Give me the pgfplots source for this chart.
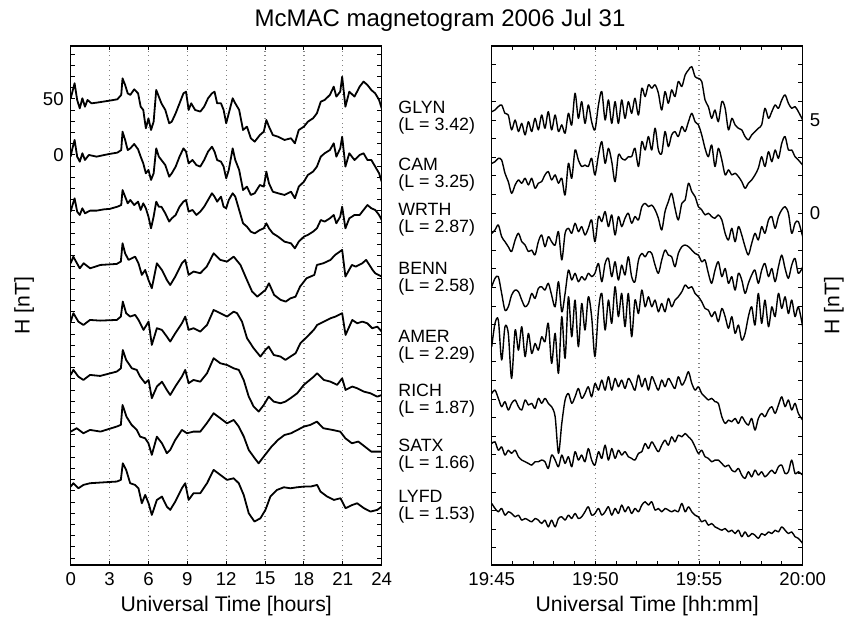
\documentclass[border=0pt]{standalone}
\usepackage{pgfplots}
\pgfplotsset{compat=1.18}
\usepackage{pgfplotstable}
\usepackage{fontspec}
\setmainfont{Liberation Sans}

\pgfplotstableread{
x glyn cam wrth benn amer rich satx lyfd
0.00 5.45 2.67 -1.09 -3.96 -7.19 -9.70 -12.39 -15.61
0.16 5.54 2.76 -0.91 -3.51 -5.93 -9.52 -12.30 -15.88
0.32 5.72 2.94 -0.64 -3.42 -5.75 -9.96 -12.75 -16.06
0.48 5.81 2.85 -1.27 -4.32 -7.90 -10.41 -12.57 -15.88
0.64 5.36 2.14 -1.54 -5.22 -6.11 -10.14 -13.01 -16.24
0.80 5.27 1.69 -1.81 -5.04 -6.47 -10.59 -12.75 -16.06
0.96 4.47 1.06 -2.07 -4.41 -8.89 -10.23 -12.92 -16.15
1.13 5.00 1.51 -1.45 -4.14 -6.29 -10.05 -12.75 -16.33
1.29 4.38 1.78 -1.09 -4.23 -7.37 -10.41 -13.10 -16.24
1.45 4.82 1.60 -1.54 -4.68 -6.11 -10.59 -13.28 -16.51
1.61 4.20 1.87 -1.72 -5.04 -7.72 -10.05 -13.37 -16.42
1.77 4.91 1.51 -2.07 -4.86 -6.47 -10.32 -13.46 -16.51
1.93 4.38 1.87 -1.99 -4.32 -7.55 -10.23 -13.55 -16.60
2.09 5.09 1.33 -2.25 -4.59 -7.01 -10.50 -13.37 -16.42
2.25 4.47 1.60 -1.54 -4.05 -7.37 -9.96 -13.37 -16.51
2.41 5.27 1.69 -1.18 -3.96 -6.65 -10.23 -13.28 -16.69
2.57 4.56 2.05 -1.81 -4.14 -6.92 -9.96 -13.37 -16.51
2.73 5.45 2.23 -1.27 -3.78 -5.93 -10.23 -13.73 -16.87
2.89 4.47 1.78 -1.54 -4.41 -8.08 -10.41 -13.01 -16.51
3.06 5.27 2.05 -1.72 -5.04 -6.47 -10.95 -13.28 -16.87
3.22 4.38 1.60 -1.00 -3.69 -8.62 -12.92 -13.64 -16.42
3.38 4.74 1.87 -2.52 -5.31 -5.57 -11.31 -13.01 -16.33
3.54 4.29 0.97 -1.09 -4.32 -7.81 -10.05 -13.46 -16.51
3.70 5.36 2.67 -0.82 -3.07 -4.50 -9.70 -13.10 -16.24
3.86 4.74 1.87 -1.09 -3.60 -6.65 -10.23 -13.64 -16.42
4.02 6.44 3.39 -0.55 -3.24 -4.68 -9.88 -12.83 -16.15
4.18 5.09 2.85 -1.00 -3.69 -7.19 -9.43 -13.28 -16.42
4.34 5.99 2.50 -0.73 -3.42 -4.86 -9.96 -13.01 -16.33
4.50 4.82 2.58 -1.18 -3.60 -6.29 -9.70 -13.37 -16.06
4.66 5.81 2.50 -0.82 -3.24 -4.50 -9.34 -12.66 -15.79
4.82 4.91 2.94 -0.37 -3.42 -5.57 -9.88 -13.28 -16.24
4.98 4.47 2.05 -1.54 -3.24 -7.72 -9.16 -13.55 -16.15
5.15 5.81 3.12 -0.19 -2.71 -5.22 -9.52 -12.83 -15.88
5.31 6.53 3.84 -0.46 -3.69 -4.32 -8.98 -13.19 -16.24
5.47 5.00 2.67 0.08 -2.71 -6.29 -9.52 -12.48 -16.06
5.63 6.08 3.48 -0.73 -2.44 -4.68 -8.80 -13.28 -15.79
5.79 4.82 2.76 -0.10 -3.42 -5.93 -9.52 -12.66 -16.24
5.95 5.99 1.69 -1.18 -2.62 -3.96 -8.89 -13.19 -15.88
6.11 4.82 3.12 -0.19 -3.60 -5.57 -9.34 -12.75 -16.15
6.27 6.08 2.94 -0.73 -2.80 -4.32 -8.98 -13.01 -15.70
6.43 5.09 2.85 -0.28 -3.33 -6.11 -9.43 -12.83 -16.06
6.59 5.99 3.03 -0.01 -2.35 -4.32 -8.89 -13.10 -15.79
6.75 5.36 3.03 -0.55 -3.42 -6.65 -9.16 -13.19 -16.15
6.91 6.17 3.48 -0.19 -3.69 -4.68 -9.52 -13.28 -15.88
7.08 5.27 2.50 -0.37 -2.53 -5.40 -8.71 -12.92 -16.06
7.24 6.71 3.84 0.34 -2.17 -4.14 -9.34 -12.83 -15.70
7.40 6.26 3.39 0.52 -2.35 -5.04 -8.89 -12.39 -15.52
7.56 6.89 4.11 0.34 -2.08 -4.50 -9.52 -12.66 -15.70
7.72 6.71 3.39 0.43 -2.17 -5.04 -8.80 -12.30 -15.52
7.88 6.89 4.56 0.17 -2.80 -4.68 -9.16 -12.57 -15.97
8.04 6.44 3.39 -0.28 -3.24 -5.31 -9.52 -12.83 -15.88
8.20 5.54 3.21 -0.91 -2.53 -4.86 -8.98 -12.48 -16.06
8.36 6.53 4.38 0.08 -1.99 -5.31 -9.34 -12.21 -15.88
8.52 5.90 3.57 0.61 -2.26 -4.59 -8.89 -12.48 -15.97
8.68 6.62 4.20 1.06 -2.35 -5.04 -9.16 -12.03 -16.06
8.84 6.26 4.38 0.26 -2.89 -4.68 -9.43 -12.30 -15.97
9.00 7.07 4.11 -0.37 -2.17 -4.50 -8.80 -11.94 -16.06
9.17 6.80 4.65 0.52 -1.81 -4.23 -9.25 -12.03 -15.61
9.33 7.42 4.38 0.70 -1.72 -3.87 -8.98 -11.85 -16.06
9.49 7.69 4.91 1.60 -1.81 -4.05 -8.53 -12.03 -15.79
9.65 7.87 5.36 1.15 -1.99 -3.96 -9.16 -12.21 -16.06
9.81 7.33 4.91 0.88 -2.17 -4.32 -9.52 -12.57 -16.24
9.97 7.24 4.74 0.34 -2.26 -4.50 -9.34 -12.92 -16.33
10.13 7.07 4.20 0.17 -2.62 -4.77 -9.70 -12.75 -16.60
10.29 6.08 3.48 -0.10 -2.53 -5.13 -9.88 -13.10 -16.51
10.45 5.72 3.03 -0.01 -3.24 -5.22 -10.05 -13.19 -16.78
10.61 5.09 3.66 -0.19 -3.78 -5.57 -9.96 -13.37 -16.69
10.77 5.54 2.50 -0.28 -3.07 -5.31 -10.14 -13.28 -16.87
10.93 4.91 3.48 -0.10 -2.62 -5.84 -10.23 -13.28 -16.96
11.10 5.99 2.85 -0.37 -3.42 -5.13 -10.95 -13.46 -17.05
11.26 5.63 2.05 -1.09 -2.98 -5.57 -11.31 -13.64 -16.96
11.42 4.47 2.32 -1.45 -3.78 -6.20 -11.13 -13.55 -17.14
11.58 5.09 2.05 -0.82 -3.42 -5.57 -11.22 -13.82 -17.05
11.74 4.74 2.14 -1.54 -4.14 -6.47 -11.04 -13.91 -17.23
11.90 4.56 1.96 -0.73 -3.24 -6.02 -11.31 -13.73 -17.05
12.06 4.47 1.69 -1.18 -3.60 -6.83 -10.95 -14.09 -17.40
12.22 4.11 1.33 -1.81 -4.32 -6.47 -11.22 -14.27 -17.14
12.38 3.93 1.60 -2.25 -3.78 -5.57 -11.40 -13.91 -17.40
12.54 4.20 1.78 -1.63 -3.33 -5.04 -11.04 -14.18 -17.23
12.70 4.38 2.05 -1.09 -3.07 -6.02 -11.67 -13.82 -17.32
12.86 4.56 2.41 -1.45 -3.78 -4.32 -11.04 -14.09 -17.49
13.02 4.74 3.03 -0.73 -3.07 -5.93 -10.77 -13.91 -17.23
13.18 5.63 2.50 -1.09 -2.71 -4.68 -10.95 -14.18 -17.32
13.35 5.09 3.30 -0.37 -3.42 -6.11 -10.59 -14.00 -17.14
13.51 5.45 2.76 -0.19 -2.98 -5.04 -10.41 -13.82 -17.23
13.67 5.81 3.39 -0.82 -3.69 -5.57 -10.77 -14.00 -17.05
13.83 5.63 2.94 -0.19 -2.89 -4.32 -10.32 -13.64 -17.14
13.99 6.08 3.75 0.17 -2.26 -5.13 -9.88 -13.55 -16.87
14.15 6.35 4.11 0.34 -2.98 -4.50 -10.41 -14.00 -17.05
14.31 5.90 3.39 -0.01 -3.51 -5.40 -10.05 -13.91 -17.23
14.47 5.63 3.39 -1.09 -2.80 -4.68 -10.59 -13.28 -17.14
14.63 5.72 3.03 -0.55 -2.44 -5.57 -10.23 -14.00 -17.40
14.79 5.45 2.85 -0.46 -3.24 -5.04 -10.77 -13.91 -17.49
15.00 5.00 2.58 -1.27 -2.89 -6.11 -11.13 -14.09 -17.76
}\rightdata

\pgfplotsset{
  magaxis/.style={
    scale only axis, width=155.5pt, height=259.5pt,
    anchor=south west,
    axis line style={line width=0.6pt},
    tick align=inside,
    major tick length=2.2pt, minor tick length=2.2pt,
    every tick/.style={black, line width=0.5pt},
    every minor tick/.style={black, line width=0.5pt},
    xmajorgrids,
    major x grid style={gray, dotted, line width=0.6pt},
    tick label style={font=\fontsize{9.3}{11}\selectfont},
    label style={font=\fontsize{10.6}{12}\selectfont},
    xlabel style={at={(axis description cs:0.5,-0.079)}, anchor=center},
  },
  lefttrace/.style={black, line width=0.9pt, line join=round},
  righttrace/.style={black, line width=0.7pt, line join=round, smooth, tension=0.5},
}

\begin{document}
\begin{tikzpicture}

\begin{axis}[magaxis, at={(35.35pt,27.5pt)},
  xmin=0, xmax=24, ymin=-366.1, ymax=97.3,
  xtick={0,3,...,24}, xticklabels={0,3,6,9,12,15,18,21,24},
  ytick={0,50}, yticklabels={0,50}, minor ytick={-360,-350,...,90},
  xlabel={Universal Time [hours]},
  ylabel={H [nT]},
  ylabel style={at={(axis description cs:-0.150,0.5)}, anchor=center},
]
% GLYN
\addplot[lefttrace] coordinates {(0.0,50.6) (0.1,55.0) (0.3,64.0) (0.5,49.1) (0.7,41.6) (0.9,50.6) (1.1,43.1) (1.3,49.1) (1.6,46.1) (2.0,46.7) (2.5,47.6) (3.0,48.5) (3.6,49.7) (3.9,53.6) (4.0,68.4) (4.2,62.5) (4.4,55.0) (4.6,53.6) (4.9,58.6) (5.2,55.0) (5.4,43.1) (5.6,40.2) (5.8,23.8) (6.0,32.7) (6.2,22.3) (6.4,29.7) (6.6,58.0) (6.8,52.1) (7.0,46.1) (7.3,40.2) (7.6,28.3) (7.8,29.7) (8.1,37.2) (8.4,46.1) (8.7,55.0) (8.9,56.5) (9.1,40.2) (9.3,46.1) (9.6,40.2) (10.0,38.7) (10.3,43.1) (10.6,50.6) (10.9,55.0) (11.1,56.5) (11.3,46.1) (11.6,46.1) (11.8,40.2) (12.0,28.3) (12.2,37.2) (12.5,50.6) (12.7,46.1) (13.0,40.2) (13.3,22.3) (13.6,25.3) (13.9,14.9) (14.2,11.9) (14.6,17.8) (14.9,20.8) (15.1,31.2) (15.3,25.3) (15.6,17.8) (16.0,16.3) (16.5,13.4) (17.0,14.9) (17.3,10.4) (17.6,22.3) (18.0,25.3) (18.3,29.7) (18.7,32.7) (19.0,37.2) (19.3,47.6) (19.6,49.1) (20.0,53.6) (20.3,61.0) (20.5,52.1) (20.8,56.5) (20.95,69.9) (21.2,43.1) (21.5,56.5) (21.9,52.1) (22.3,61.0) (22.6,65.5) (22.9,62.5) (23.2,58.0) (23.5,55.0) (23.8,49.1) (24.0,41.6)};
% CAM
\addplot[lefttrace] coordinates {(0.0,-1.5) (0.1,4.4) (0.3,13.4) (0.5,-1.5) (0.7,-6.0) (0.9,1.5) (1.1,-4.5) (1.4,0.0) (2.0,-1.5) (2.6,0.0) (3.0,0.9) (3.6,2.1) (3.9,4.4) (4.0,20.8) (4.2,13.4) (4.4,4.4) (4.6,5.9) (4.9,9.8) (5.2,5.0) (5.4,-1.5) (5.6,-7.5) (5.8,-16.4) (6.0,-13.4) (6.2,-22.3) (6.4,-16.4) (6.6,5.9) (6.8,-1.5) (7.0,-4.5) (7.3,-9.0) (7.6,-19.4) (7.8,-16.4) (8.1,-10.4) (8.4,-1.5) (8.7,5.9) (8.9,3.0) (9.1,-7.5) (9.4,-4.5) (9.7,-9.0) (10.0,-10.4) (10.3,-4.5) (10.6,3.0) (10.9,7.4) (11.1,3.0) (11.3,-4.5) (11.6,-6.0) (11.8,-10.4) (12.0,-20.9) (12.2,-13.4) (12.5,5.9) (12.7,-4.5) (13.0,-13.4) (13.3,-31.3) (13.6,-28.3) (13.9,-35.7) (14.2,-34.2) (14.6,-26.8) (14.9,-28.3) (15.1,-14.9) (15.3,-25.3) (15.6,-32.8) (16.0,-34.2) (16.5,-35.7) (17.0,-32.8) (17.3,-38.7) (17.6,-28.3) (18.0,-23.8) (18.3,-17.9) (18.7,-14.9) (19.0,-10.4) (19.3,-1.5) (19.6,1.5) (20.0,4.4) (20.3,10.4) (20.5,-1.5) (20.8,5.9) (20.95,16.3) (21.2,-10.4) (21.5,1.5) (21.9,-4.5) (22.3,0.0) (22.6,1.5) (22.9,-4.5) (23.2,-4.5) (23.5,-10.4) (23.8,-16.4) (24.0,-23.8)};
% WRTH
\addplot[lefttrace] coordinates {(0.0,-50.6) (0.1,-46.2) (0.3,-38.7) (0.5,-50.6) (0.7,-53.6) (0.9,-47.6) (1.1,-52.1) (1.5,-49.7) (2.0,-49.7) (2.6,-48.5) (3.0,-48.2) (3.6,-46.2) (3.9,-44.7) (4.0,-31.3) (4.2,-37.2) (4.4,-43.2) (4.6,-40.2) (4.9,-44.7) (5.2,-41.7) (5.4,-49.1) (5.6,-43.2) (5.8,-47.6) (6.0,-55.1) (6.2,-65.5) (6.4,-55.1) (6.6,-41.7) (6.8,-46.2) (7.0,-46.2) (7.3,-52.1) (7.6,-59.5) (7.8,-56.6) (8.1,-53.6) (8.4,-46.2) (8.7,-41.7) (8.9,-40.2) (9.1,-50.6) (9.4,-49.1) (9.7,-53.6) (10.0,-50.6) (10.3,-46.2) (10.6,-40.2) (10.9,-34.2) (11.1,-37.2) (11.3,-41.7) (11.6,-37.2) (11.8,-46.2) (12.0,-47.6) (12.2,-40.2) (12.5,-34.2) (12.7,-37.2) (13.0,-49.1) (13.3,-61.0) (13.6,-64.0) (13.9,-68.5) (14.2,-70.0) (14.6,-67.0) (14.9,-65.5) (15.1,-61.0) (15.3,-65.5) (15.6,-70.0) (16.0,-72.9) (16.5,-77.4) (17.0,-78.9) (17.3,-83.4) (17.6,-77.4) (18.0,-72.9) (18.3,-71.4) (18.7,-68.5) (19.0,-65.5) (19.3,-58.1) (19.6,-59.5) (20.0,-56.6) (20.3,-53.6) (20.5,-61.0) (20.8,-55.1) (20.95,-46.2) (21.2,-65.5) (21.5,-56.6) (21.9,-53.6) (22.3,-53.6) (22.6,-49.1) (22.9,-44.7) (23.2,-47.6) (23.5,-49.1) (23.8,-53.6) (24.0,-58.1)};
% BENN
\addplot[lefttrace] coordinates {(0.0,-96.7) (0.2,-90.8) (0.7,-101.2) (1.0,-96.7) (1.5,-101.2) (2.3,-98.2) (3.55,-97.3) (3.87,-95.2) (4.0,-78.8) (4.2,-87.8) (4.46,-93.7) (4.97,-90.8) (5.23,-96.7) (5.49,-107.1) (5.75,-102.7) (6.0,-111.6) (6.26,-119.0) (6.65,-96.7) (7.04,-102.7) (7.42,-111.6) (7.68,-116.1) (8.07,-108.6) (8.58,-96.7) (8.84,-93.7) (9.1,-107.1) (9.48,-104.1) (10.0,-105.6) (10.5,-99.7) (11.03,-87.8) (11.55,-93.7) (12.06,-95.2) (12.58,-90.8) (13.1,-98.2) (13.6,-111.6) (14.0,-122.0) (14.4,-126.5) (15.03,-120.5) (15.3,-114.6) (15.7,-125.0) (16.2,-129.4) (16.6,-130.9) (16.96,-128.0) (17.35,-126.5) (17.7,-117.5) (18.2,-110.1) (18.8,-107.1) (19.0,-98.2) (19.5,-96.7) (20.05,-93.7) (20.4,-89.3) (20.95,-84.8) (21.2,-108.6) (21.7,-98.2) (22.0,-99.7) (22.5,-96.7) (22.8,-93.7) (23.3,-102.7) (23.5,-105.6) (24.0,-108.6)};
% AMER
\addplot[lefttrace] coordinates {(0,-148.8) (0.21,-141.3) (0.59,-148.8) (0.98,-151.8) (1.49,-147.3) (2.27,-147.9) (3.56,-147.3) (3.87,-144.3) (4.02,-130.9) (4.28,-141.3) (4.59,-144.3) (4.97,-142.8) (5.23,-147.3) (5.62,-156.2) (6.01,-148.8) (6.26,-169.6) (6.65,-154.7) (7.04,-156.2) (7.42,-162.2) (7.68,-166.6) (8.07,-159.2) (8.58,-150.3) (8.84,-144.3) (9.10,-156.2) (9.48,-154.7) (10.0,-157.7) (10.52,-151.8) (11.03,-138.4) (11.55,-141.3) (12.06,-144.3) (12.58,-139.9) (12.84,-141.3) (13.22,-148.8) (13.61,-163.7) (14.12,-172.6) (14.64,-180.0) (15.03,-174.1) (15.28,-171.1) (15.67,-178.6) (16.19,-180.0) (16.57,-183.0) (16.96,-180.0) (17.35,-177.1) (17.73,-168.1) (18.25,-162.2) (18.76,-156.2) (19.02,-151.8) (19.54,-148.8) (20.05,-145.8) (20.44,-144.3) (20.95,-141.3) (21.21,-160.7) (21.73,-147.3) (22.11,-150.3) (22.50,-148.8) (22.89,-150.3) (23.27,-154.7) (23.66,-153.3) (24.0,-157.7)};
% RICH
\addplot[lefttrace] coordinates {(0,-196.4) (0.21,-191.9) (0.59,-197.9) (0.98,-200.9) (1.49,-196.4) (2.27,-197.3) (3.56,-193.4) (3.87,-190.5) (4.02,-174.1) (4.28,-183.0) (4.72,-190.5) (5.10,-191.9) (5.36,-197.9) (5.75,-203.8) (6.01,-200.9) (6.26,-217.2) (6.65,-206.8) (7.04,-202.4) (7.42,-209.8) (7.68,-214.3) (8.07,-206.8) (8.58,-197.9) (8.84,-191.9) (9.10,-203.8) (9.48,-200.9) (10.0,-202.4) (10.52,-194.9) (11.03,-181.5) (11.55,-186.0) (12.06,-187.5) (12.58,-190.5) (12.97,-191.9) (13.35,-200.9) (13.74,-215.8) (14.12,-224.7) (14.51,-229.1) (14.90,-223.2) (15.28,-215.8) (15.67,-220.2) (16.19,-221.7) (16.57,-220.2) (16.96,-217.2) (17.48,-212.8) (17.99,-205.3) (18.76,-197.9) (19.02,-194.9) (19.54,-200.9) (20.05,-202.4) (20.56,-205.3) (20.95,-199.4) (21.21,-209.8) (21.73,-206.8) (22.11,-208.3) (22.63,-211.3) (23.14,-212.8) (23.66,-215.8) (24.0,-214.3)};
% SATX
\addplot[lefttrace] coordinates {(0,-247.0) (0.46,-244.0) (0.98,-248.5) (1.5,-245.5) (2.3,-247.0) (3.55,-242.5) (3.87,-241.0) (4.0,-223.2) (4.3,-233.6) (4.7,-241.0) (5.1,-245.5) (5.36,-251.5) (5.75,-253.0) (6.0,-257.4) (6.26,-267.8) (6.65,-251.5) (7.04,-257.4) (7.42,-266.3) (7.68,-263.4) (8.07,-254.4) (8.58,-245.5) (8.97,-248.5) (9.48,-247.0) (10.0,-247.0) (10.5,-239.6) (11.03,-230.6) (11.55,-235.1) (12.06,-239.6) (12.58,-236.6) (12.97,-242.5) (13.36,-251.5) (13.74,-263.4) (14.2,-270.8) (14.5,-275.3) (15.0,-267.8) (15.5,-260.4) (16.0,-254.4) (16.5,-250.0) (17.0,-248.5) (17.5,-245.5) (18.0,-242.5) (18.5,-241.0) (19.0,-238.1) (19.5,-244.0) (20.2,-245.5) (20.8,-247.0) (21.2,-253.0) (21.7,-257.4) (22.2,-255.9) (22.7,-260.4) (23.2,-264.9) (24.0,-264.9)};
% LYFD
\addplot[lefttrace] coordinates {(0,-296.1) (0.21,-293.1) (0.59,-297.6) (0.98,-294.6) (1.49,-293.1) (2.27,-292.5) (3.56,-291.6) (3.87,-290.1) (4.02,-275.3) (4.28,-281.2) (4.59,-293.1) (4.97,-294.6) (5.23,-297.6) (5.49,-311.0) (5.75,-303.5) (6.01,-311.0) (6.26,-321.4) (6.65,-308.0) (7.04,-305.0) (7.42,-314.0) (7.68,-316.9) (8.07,-309.5) (8.58,-297.6) (8.84,-293.1) (9.10,-308.0) (9.48,-302.0) (10.0,-302.0) (10.52,-293.1) (11.03,-281.2) (11.55,-285.7) (12.06,-290.1) (12.58,-288.7) (12.97,-293.1) (13.35,-303.5) (13.74,-319.9) (14.18,-327.3) (14.64,-324.4) (15.03,-316.9) (15.41,-305.0) (15.92,-299.1) (16.45,-296.7) (16.96,-297.6) (17.48,-296.7) (17.99,-296.1) (18.51,-296.1) (19.02,-294.6) (19.28,-300.6) (19.79,-305.0) (20.31,-308.0) (20.82,-306.5) (21.21,-315.4) (21.73,-312.5) (22.11,-311.0) (22.63,-315.4) (23.14,-318.4) (23.66,-316.9) (24.0,-314.0)};
\end{axis}

\begin{axis}[magaxis, at={(245.85pt,27.5pt)},
  xmin=0, xmax=15, ymin=-18.92, ymax=8.98,
  xtick={0,5,10,15}, xticklabels={19:45,19:50,19:55,20:00},
  minor xtick={1,2,3,4,6,7,8,9,11,12,13,14},
  ytick={0,5}, yticklabels={0,5}, minor ytick={-18,-17,...,8},
  yticklabel pos=right,
  xlabel={Universal Time [hh:mm]},
  ylabel={H [nT]},
  ylabel style={at={(axis description cs:1.10,0.5)}, anchor=center},
]
\addplot[righttrace] table[x=x, y=glyn] {\rightdata};
\addplot[righttrace] table[x=x, y=cam] {\rightdata};
\addplot[righttrace] table[x=x, y=wrth] {\rightdata};
\addplot[righttrace] table[x=x, y=benn] {\rightdata};
\addplot[righttrace] table[x=x, y=amer] {\rightdata};
\addplot[righttrace] table[x=x, y=rich] {\rightdata};
\addplot[righttrace] table[x=x, y=satx] {\rightdata};
\addplot[righttrace] table[x=x, y=lyfd] {\rightdata};
\end{axis}

\node[font=\fontsize{12}{14}\selectfont] at (220pt,300pt) {McMAC magnetogram 2006 Jul 31};

\begin{scope}[every node/.style={anchor=west, inner sep=0pt, align=left, font=\fontsize{8.9}{8.6}\selectfont}]
\node at (199pt,251.25pt) {GLYN\\(L = 3.42)};
\node at (199pt,222.5pt) {CAM\\(L = 3.25)};
\node at (199pt,200pt) {WRTH\\(L = 2.87)};
\node at (199pt,170.75pt) {BENN\\(L = 2.58)};
\node at (199pt,136.65pt) {AMER\\(L = 2.29)};
\node at (199pt,109.6pt) {RICH\\(L = 1.87)};
\node at (199pt,82.1pt) {SATX\\(L = 1.66)};
\node at (199pt,56.75pt) {LYFD\\(L = 1.53)};
\end{scope}

\pgfresetboundingbox
\useasboundingbox (0pt,0pt) rectangle (423.5pt,310pt);
\end{tikzpicture}
\end{document}
